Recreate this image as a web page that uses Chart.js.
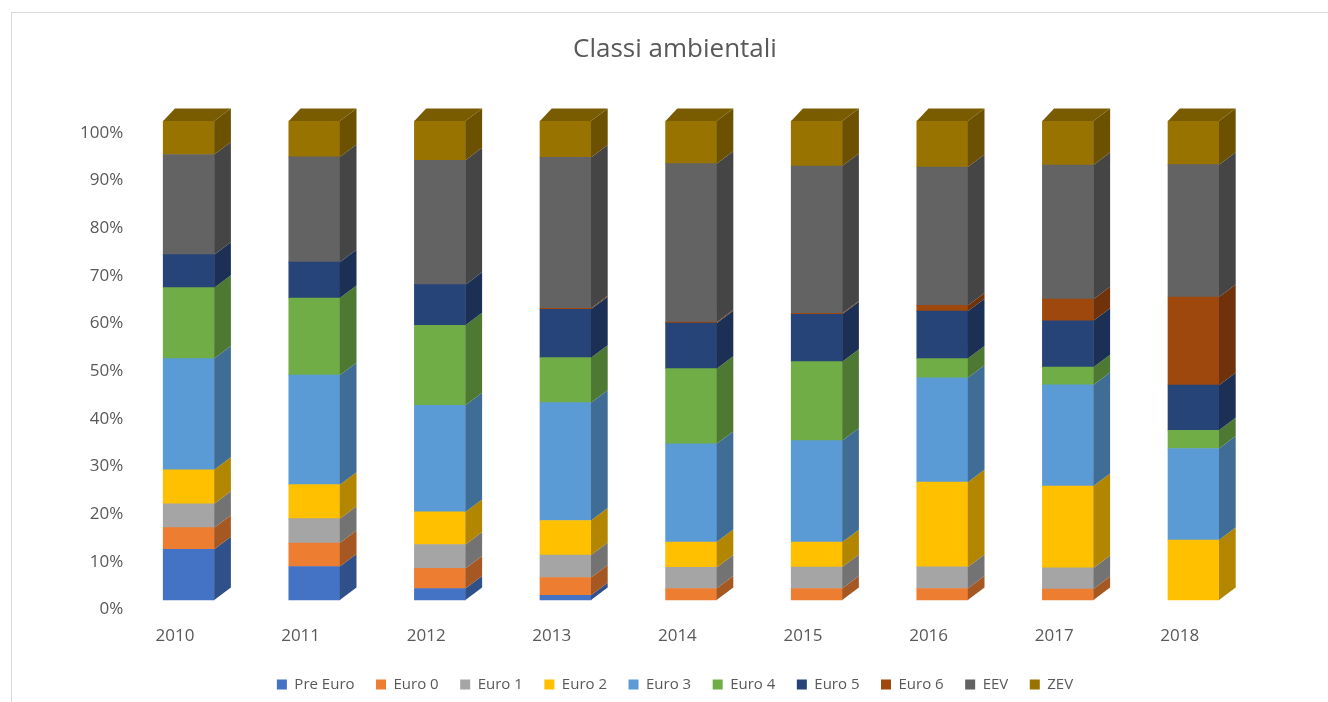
<!DOCTYPE html>
<html>
<head>
<meta charset="utf-8">
<script src="https://cdn.jsdelivr.net/npm/chart.js@4.4.1/dist/chart.umd.min.js"></script>
<style>
    body { margin: 0; background: #fff; }
    #wrap { position: relative; width: 1328px; height: 702px; }
    #frame { position: absolute; left: 11px; top: 12px; right: 0; bottom: 0;
             border-left: 1px solid #d9d9d9; border-top: 1px solid #d9d9d9; pointer-events: none; }
</style>
</head>
<body>
<div id="wrap">
    <canvas id="chart" width="1328" height="702"></canvas>
    <div id="frame"></div>
</div>
<script>
// Dati (quote % per anno)
const anni = ['2010', '2011', '2012', '2013', '2014', '2015', '2016', '2017', '2018'];
const preEuro = [10.6, 7.0, 2.4, 1.0, 0, 0, 0, 0, 0];
const euro0 = [4.5, 4.9, 4.2, 3.7, 2.4, 2.4, 2.4, 2.3, 0];
const euro1 = [5.0, 5.1, 5.0, 4.7, 4.4, 4.5, 4.5, 4.4, 0];
const euro2 = [7.1, 7.1, 6.8, 7.2, 5.3, 5.2, 17.7, 17.1, 12.5];
const euro3 = [23.2, 22.9, 22.3, 24.6, 20.5, 21.2, 21.8, 21.1, 19.1];
const euro4 = [14.8, 16.1, 16.7, 9.4, 15.7, 16.5, 4.0, 3.7, 3.8];
const euro5 = [6.9, 7.5, 8.5, 10.1, 9.5, 9.9, 9.9, 9.7, 9.4];
const euro6 = [0, 0, 0, 0.2, 0.2, 0.2, 1.2, 4.5, 18.4];
const eev = [20.9, 22.0, 26.0, 31.5, 33.1, 30.8, 28.9, 28.0, 27.6];
const zev = [7.0, 7.5, 8.2, 7.6, 8.9, 9.4, 9.6, 9.2, 9.1];
const yTicks = [0, 10, 20, 30, 40, 50, 60, 70, 80, 90, 100];

const serie = [
    ['Pre Euro', preEuro, '#4472C4'],
    ['Euro 0', euro0, '#ED7D31'],
    ['Euro 1', euro1, '#A5A5A5'],
    ['Euro 2', euro2, '#FFC000'],
    ['Euro 3', euro3, '#5B9BD5'],
    ['Euro 4', euro4, '#70AD47'],
    ['Euro 5', euro5, '#264478'],
    ['Euro 6', euro6, '#9E480E'],
    ['EEV', eev, '#636363'],
    ['ZEV', zev, '#997300']
];

// totale per anno -> grafico in pila al 100%
const totali = anni.map((a, i) => serie.reduce((s, d) => s + d[1][i], 0));

function scurisci(hex, f) {
    const n = parseInt(hex.slice(1), 16);
    const r = Math.round(((n >> 16) & 255) * f);
    const g = Math.round(((n >> 8) & 255) * f);
    const b = Math.round((n & 255) * f);
    return `rgb(${r},${g},${b})`;
}

const grigio = '#595959';
const font = 'Open Sans';

// effetto 3D: colonne spostate "in profondità", facce laterali e superiore
const DX = 13.7, BASE_Y = 600, ALTEZZA_FRONTE = 479;
const SIDE_DX = 16.7, TOP_DX = 11.7, DEPTH_DY = 12.4;

const colonne3D = {
    id: 'colonne3D',
    beforeDatasetsDraw(chart) {
        const ctx = chart.ctx;
        const y0 = chart.scales.y.getPixelForValue(0);
        const y100 = chart.scales.y.getPixelForValue(100);
        ctx.save();
        ctx.translate(DX, BASE_Y);
        ctx.scale(1, ALTEZZA_FRONTE / (y0 - y100));
        ctx.translate(0, -y0);
    },
    afterDatasetsDraw(chart) {
        const ctx = chart.ctx;
        const n = chart.data.labels.length;
        for (let i = 0; i < n; i++) {
            let ultimo = null;
            chart.data.datasets.forEach((ds, k) => {
                const el = chart.getDatasetMeta(k).data[i];
                if (!el || !(ds.data[i] > 0)) return;
                const xr = el.x + el.width / 2;
                const top = Math.min(el.y, el.base), bot = Math.max(el.y, el.base);
                ctx.fillStyle = scurisci(serie[k][2], 0.7);
                ctx.beginPath();
                ctx.moveTo(xr, bot);
                ctx.lineTo(xr + SIDE_DX, bot - DEPTH_DY);
                ctx.lineTo(xr + SIDE_DX, top - DEPTH_DY);
                ctx.lineTo(xr, top);
                ctx.closePath();
                ctx.fill();
                ultimo = { el, k };
            });
            if (ultimo) {
                const el = ultimo.el;
                const xl = el.x - el.width / 2, xr = el.x + el.width / 2;
                const top = Math.min(el.y, el.base);
                ctx.fillStyle = scurisci(serie[ultimo.k][2], 0.8);
                ctx.beginPath();
                ctx.moveTo(xl, top);
                ctx.lineTo(xl + TOP_DX, top - DEPTH_DY);
                ctx.lineTo(xr + SIDE_DX, top - DEPTH_DY);
                ctx.lineTo(xr, top);
                ctx.closePath();
                ctx.fill();
            }
        }
        ctx.restore();
    }
};

const ctx = document.getElementById('chart').getContext('2d');

const chart = new Chart(ctx, {
    type: 'bar',
    data: {
        labels: anni,
        datasets: serie.map(([nome, valori, colore]) => ({
            label: nome,
            data: valori.map((v, i) => v > 0 ? v / totali[i] * 100 : null),
            backgroundColor: colore,
            borderWidth: 0,
            barThickness: 51,
            clip: false
        }))
    },
    options: {
        responsive: false,
        animation: false,
        layout: { padding: { left: 22, right: 0, top: 0, bottom: 0 } },
        scales: {
            x: {
                stacked: true,
                offset: false,
                grid: { display: false, drawTicks: false },
                border: { display: false },
                ticks: { color: grigio, font: { family: font, size: 17 }, padding: 16 },
                afterFit(s) { s.height = 46; }
            },
            y: {
                stacked: true,
                min: 0,
                max: 100,
                afterBuildTicks(s) { s.ticks = yTicks.map(v => ({ value: v })); },
                grid: { display: false, drawTicks: false },
                border: { display: false },
                ticks: {
                    color: grigio,
                    font: { family: font, size: 17 },
                    padding: 51.8,
                    callback: v => v + '%'
                },
                afterFit(s) { s.width = 153; }
            },
            destra: {
                position: 'right',
                grid: { display: false, drawTicks: false },
                border: { display: false },
                ticks: { display: false },
                afterFit(s) { s.width = 148.2; }
            }
        },
        plugins: {
            title: {
                display: true,
                text: 'Classi ambientali',
                color: grigio,
                font: { family: font, size: 26, weight: 'normal' },
                padding: { top: 34, bottom: 67.8 }
            },
            legend: {
                position: 'bottom',
                labels: {
                    color: grigio,
                    font: { family: font, size: 15 },
                    boxWidth: 10,
                    boxHeight: 10,
                    padding: 21.5
                }
            },
            tooltip: { enabled: false }
        }
    },
    plugins: [colonne3D]
});
</script>
</body>
</html>
